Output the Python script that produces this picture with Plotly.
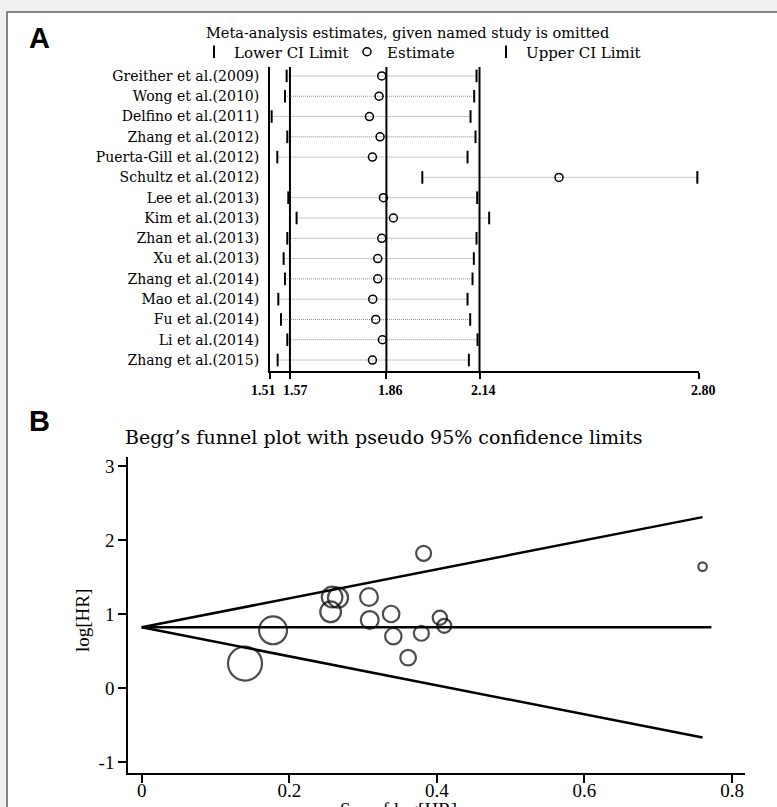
import plotly.graph_objects as go

# ---------------- Panel A data (meta-analysis influence) ----------------
studies = ["Greither et al.(2009)", "Wong et al.(2010)", "Delfino et al.(2011)",
           "Zhang et al.(2012)", "Puerta-Gill et al.(2012)", "Schultz et al.(2012)",
           "Lee et al.(2013)", "Kim et al.(2013)", "Zhan et al.(2013)", "Xu et al.(2013)",
           "Zhang et al.(2014)", "Mao et al.(2014)", "Fu et al.(2014)", "Li et al.(2014)",
           "Zhang et al.(2015)"]
lower_ci = [1.560, 1.555, 1.515, 1.562, 1.532, 1.968, 1.565, 1.590, 1.562, 1.551,
            1.555, 1.535, 1.543, 1.562, 1.533]
estimate = [1.846, 1.838, 1.809, 1.841, 1.818, 2.379, 1.851, 1.881, 1.846, 1.834,
            1.834, 1.819, 1.828, 1.848, 1.818]
upper_ci = [2.131, 2.124, 2.113, 2.128, 2.104, 2.795, 2.133, 2.169, 2.131, 2.123,
            2.119, 2.104, 2.112, 2.134, 2.108]
overall_ci = [1.57, 1.86, 2.14]
a_ticks = [1.51, 1.57, 1.86, 2.14, 2.80]
a_tick_shift = [-7, 6, 4, 4, 4]   # label nudges (px), as in the original

# ---------------- Panel B data (Begg's funnel) ----------------
se_loghr = [0.382, 0.258, 0.266, 0.256, 0.308, 0.309, 0.338, 0.341, 0.379, 0.361,
            0.404, 0.410, 0.140, 0.178, 0.760]
log_hr = [1.82, 1.23, 1.22, 1.03, 1.23, 0.92, 1.00, 0.70, 0.74, 0.41,
          0.95, 0.84, 0.33, 0.78, 1.64]
pooled_loghr = 0.82
b_xticks = [0, 0.2, 0.4, 0.6, 0.8]
b_yticks = [-1, 0, 1, 2, 3]

W, H = 777, 807
def px(v):
    return v / W
def py(v):
    return 1 - v / H

SERIF = "DejaVu Serif"
TIMES = "Liberation Serif"

fig = go.Figure()

# ---- Panel A traces ----
idx = list(range(len(studies)))
cx, cy = [], []
for i, (lo, hi) in enumerate(zip(lower_ci, upper_ci)):
    cx += [lo, hi, None]
    cy += [i, i, None]
fig.add_trace(go.Scatter(x=cx, y=cy, mode="lines", showlegend=False, hoverinfo="skip",
                         line=dict(color="#8c8c8c", width=1, dash="1px,1px"),
                         xaxis="x", yaxis="y"))
fig.add_trace(go.Scatter(x=lower_ci, y=idx, mode="markers", name="Lower CI Limit",
                         legend="legend",
                         marker=dict(symbol="line-ns", size=9, color="black",
                                     line=dict(width=2, color="black")),
                         xaxis="x", yaxis="y"))
fig.add_trace(go.Scatter(x=estimate, y=idx, mode="markers", name="Estimate",
                         legend="legend2",
                         marker=dict(symbol="circle-open", size=8, color="black",
                                     line=dict(width=1.5, color="black")),
                         xaxis="x", yaxis="y"))
fig.add_trace(go.Scatter(x=upper_ci, y=idx, mode="markers", name="Upper CI Limit",
                         legend="legend3",
                         marker=dict(symbol="line-ns", size=9, color="black",
                                     line=dict(width=2, color="black")),
                         xaxis="x", yaxis="y"))

# ---- Panel B traces ----
se_max = max(se_loghr)
null_end = 0.772
fig.add_trace(go.Scatter(x=[0, se_max], y=[pooled_loghr, pooled_loghr + 1.96 * se_max],
                         mode="lines", line=dict(color="black", width=2.5),
                         showlegend=False, xaxis="x2", yaxis="y2"))
fig.add_trace(go.Scatter(x=[0, se_max], y=[pooled_loghr, pooled_loghr - 1.96 * se_max],
                         mode="lines", line=dict(color="black", width=2.5),
                         showlegend=False, xaxis="x2", yaxis="y2"))
fig.add_trace(go.Scatter(x=[0, null_end], y=[pooled_loghr, pooled_loghr],
                         mode="lines", line=dict(color="black", width=2.5),
                         showlegend=False, xaxis="x2", yaxis="y2"))
sizes = [34 * (0.14 / s) ** 0.82 for s in se_loghr]
fig.add_trace(go.Scatter(x=se_loghr, y=log_hr, mode="markers", showlegend=False,
                         marker=dict(symbol="circle-open", size=sizes, color="black",
                                     line=dict(width=2.2, color="black")),
                         xaxis="x2", yaxis="y2"))

# ---- background frame ----
shapes = [dict(type="rect", xref="paper", yref="paper", x0=px(7), x1=1.05,
               y0=-0.05, y1=py(12), fillcolor="white",
               line=dict(color="#606060", width=1.5), layer="below")]
for v in overall_ci:
    shapes.append(dict(type="line", xref="x", yref="y domain", x0=v, x1=v, y0=0, y1=1,
                       line=dict(color="black", width=2)))

def ann(text, x, y, size, family, **kw):
    d = dict(text=text, x=x, y=y, xref="paper", yref="paper", showarrow=False,
             xanchor="center", yanchor="middle",
             font=dict(family=family, size=size, color="black"))
    d.update(kw)
    return d

annotations = [
    ann("<b>A</b>", px(39), py(38), 29, "Liberation Sans"),
    ann("<b>B</b>", px(39), py(421), 29, "Liberation Sans"),
    ann("Meta-analysis estimates, given named study is omitted", px(408), py(33), 14.5, SERIF),
    ann("Begg’s funnel plot with pseudo 95% confidence limits", px(384), py(437), 19, SERIF),
    ann("log[HR]", px(82), py(621), 19, TIMES, textangle=-90),
    ann("S.e. of log[HR]", px(398), py(797), 19, TIMES, yanchor="top"),
]
for v, s in zip(a_ticks, a_tick_shift):
    annotations.append(dict(text=f"<b>{v:.2f}</b>", x=v, xref="x", y=py(390), yref="paper",
                            xshift=s, showarrow=False, xanchor="center", yanchor="middle",
                            font=dict(family=TIMES, size=14, color="black")))

leg_common = dict(orientation="h", yanchor="middle", y=py(52), xanchor="left",
                  bgcolor="rgba(0,0,0,0)", borderwidth=0, itemwidth=30,
                  font=dict(family=SERIF, size=15, color="black"))

fig.update_layout(
    width=W, height=H, margin=dict(l=0, r=0, t=0, b=0),
    paper_bgcolor="#f0f0f0", plot_bgcolor="rgba(0,0,0,0)",
    shapes=shapes, annotations=annotations,
    legend=dict(x=px(194), **leg_common),
    legend2=dict(x=px(347), **leg_common),
    legend3=dict(x=px(486), **leg_common),
    xaxis=dict(domain=[px(270), px(699)], range=[1.51, 2.80], anchor="y",
               showline=True, linewidth=2, linecolor="black", showgrid=False,
               zeroline=False, ticks="outside", ticklen=6, tickwidth=2, tickcolor="black",
               tickvals=a_ticks, showticklabels=False),
    yaxis=dict(domain=[py(371), py(67)], range=[14.54, -0.44], anchor="x",
               showline=True, linewidth=2, linecolor="black", showgrid=False,
               zeroline=False, ticks="", tickvals=idx, ticktext=studies,
               ticklabelstandoff=6,
               tickfont=dict(family=SERIF, size=14, color="black")),
    xaxis2=dict(domain=[px(128), px(745)], range=[-0.01856, 0.8175], anchor="y2",
                showline=True, linewidth=1.5, linecolor="black", showgrid=False,
                zeroline=False, ticks="outside", ticklen=8, tickwidth=1.5,
                tickcolor="black", tickvals=b_xticks, tickangle=0,
                ticktext=["0", "0.2", "0.4", "0.6", "0.8"], ticklabelstandoff=-9,
                tickfont=dict(family=TIMES, size=19, color="black")),
    yaxis2=dict(domain=[py(773), py(457)], range=[-1.149, 3.122], anchor="x2",
                showline=True, linewidth=1.5, linecolor="black", showgrid=False,
                zeroline=False, ticks="outside", ticklen=8, tickwidth=1.5,
                tickcolor="black", tickvals=b_yticks,
                ticktext=[str(v) for v in b_yticks],
                tickfont=dict(family=TIMES, size=19, color="black")),
)

fig.write_html("out.html", config={"displayModeBar": False},
               post_script="document.body.style.margin='0';")
